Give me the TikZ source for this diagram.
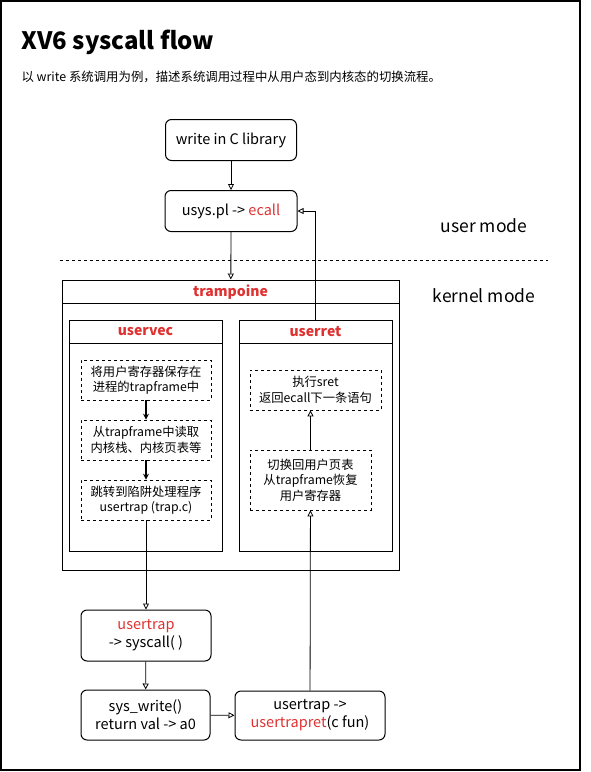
\documentclass[tikz,border=0pt]{standalone}
\usepackage{fontspec}
\setmainfont{Noto Sans CJK SC}
\usetikzlibrary{arrows.meta}
\definecolor{exred}{RGB}{224,49,49}

\begin{document}
\begin{tikzpicture}[
	x=1pt,
	y=-1pt,
	box/.style={draw=black, line width=1pt, rounded corners=6pt, align=center,
		inner sep=0pt, font=\fontsize{14.5}{18}\selectfont},
	frame/.style={draw=black, line width=1pt, inner sep=0pt},
	step box/.style={draw=black, dashed, line width=0.7pt, align=center,
		inner sep=0pt, font=\fontsize{12.3}{15.5}\selectfont},
	head/.style={text=exred, font=\bfseries\fontsize{14}{16}\selectfont},
	lab/.style={font=\fontsize{17.5}{20}\selectfont},
	arr/.style={line width=0.8pt, -{Triangle[open,length=6pt,width=6pt]}},
	fat/.style={line width=2pt, -{Stealth[length=6pt,width=6pt]}}] {

\def\hw{130}
\def\hh{40}
\useasboundingbox (0,0) rectangle (590,772);
\draw[line width=1.2pt] (1,1) rectangle (580,770);

% title
\node[anchor=west, font=\bfseries\fontsize{24}{28}\selectfont] (title) at (18,42)
    {XV6 syscall flow};
\node[anchor=west, font=\fontsize{12.4}{14}\selectfont] (sub) at (18,77)
    {以 write 系统调用为例，描述系统调用过程中从用户态到内核态的切换流程。};

% user space
\node[box, minimum width=131, minimum height=41] (wlib) at (231,140)
    {write in C library};
\node[box, minimum width=132, minimum height=41] (usys) at (231,211)
    {usys.pl -> \textcolor{exred}{ecall}};
\node[lab] (umode) at (484,226) {user mode};
\node[lab] (kmode) at (484,296) {kernel mode};
\draw[dashed, line width=0.8pt] (60,260) -- (548,260);

% trampoline page
\node[frame, minimum width=337, minimum height=290] (tramp) at (230.5,425) {};
\draw[line width=1pt] (62,303) -- (399,303);
\node[head] (trtitle) at (230.5,292) {trampoine};

% uservec
\node[frame, minimum width=153, minimum height=231] (uvec) at (145.5,435.5) {};
\draw[line width=1pt] (69,343) -- (222,343);
\node[head] (uvtitle) at (145.5,332) {uservec};
\node[step box, minimum width=\hw, minimum height=\hh] (s1) at (146,380)
    {将用户寄存器保存在\\进程的trapframe中};
\node[step box, minimum width=\hw, minimum height=\hh] (s2) at (146,440)
    {从trapframe中读取\\内核栈、内核页表等};
\node[step box, minimum width=\hw, minimum height=\hh] (s3) at (146,500)
    {跳转到陷阱处理程序\\usertrap (trap.c)};

% userret
\node[frame, minimum width=153, minimum height=231] (uret) at (315.5,435.5) {};
\draw[line width=1pt] (239,343) -- (392,343);
\node[head] (urtitle) at (315.5,332) {userret};
\node[step box, minimum width=131, minimum height=\hh] (r1) at (315.5,390)
    {执行sret\\返回ecall下一条语句};
\node[step box, minimum width=121, minimum height=60] (r2) at (310.5,480)
    {切换回用户页表\\从trapframe恢复\\用户寄存器};

% C side
\node[box, minimum width=\hw, minimum height=51] (utrap) at (146,635.5)
    {\textcolor{exred}{usertrap}\\-> syscall( )};
\node[box, minimum width=129, minimum height=50] (swrite) at (145.5,715)
    {sys\_write()\\return val -> a0};
\node[box, minimum width=150, minimum height=49] (utret) at (310,715.5)
    {usertrap ->\\\textcolor{exred}{usertrapret}(c fun)};

% links
\draw[arr] (wlib) -- (usys);
\draw[arr] (usys) -- (tramp);
\draw[fat] (s1) -- (s2);
\draw[fat] (s2) -- (s3);
\draw[arr] (s3) -- (utrap);
\draw[arr] (utrap) -- (swrite);
\draw[arr] (swrite) -- (utret);
\draw[arr] (utret) -- (r2);
\draw[arr] (r2.north) -- (r2.north |- r1.south);
\draw[arr] (uret.north) |- (usys.east);
}\end{tikzpicture}
\end{document}
